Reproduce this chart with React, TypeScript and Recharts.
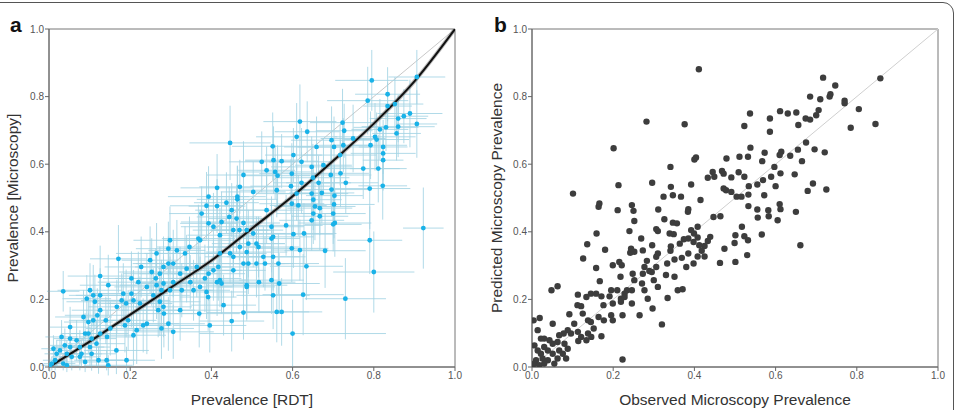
import React from "react";
import {
  ComposedChart,
  ScatterChart,
  Scatter,
  Line,
  XAxis,
  YAxis,
  ErrorBar,
  ReferenceLine,
  ReferenceArea,
} from "recharts";

// Panel a: site prevalence by RDT (x) vs microscopy (y), with x/y uncertainty
// [rdt, microscopy, rdtErr, microErr]
const RDT_VS_MICRO: [number, number, number, number][] = [
  [0.795, 0.848, 0.09, 0.09], [0.906, 0.858, 0.07, 0.08], [0.834, 0.807, 0.08, 0.08],
  [0.785, 0.788, 0.1, 0.1], [0.852, 0.778, 0.07, 0.08], [0.834, 0.772, 0.06, 0.07],
  [0.889, 0.75, 0.08, 0.1], [0.874, 0.742, 0.06, 0.08], [0.86, 0.735, 0.07, 0.07],
  [0.906, 0.719, 0.05, 0.1], [0.86, 0.711, 0.09, 0.09], [0.856, 0.691, 0.06, 0.08],
  [0.83, 0.709, 0.08, 0.07], [0.815, 0.703, 0.07, 0.09], [0.803, 0.681, 0.1, 0.1],
  [0.807, 0.673, 0.08, 0.08], [0.792, 0.656, 0.09, 0.1], [0.823, 0.651, 0.06, 0.08],
  [0.823, 0.632, 0.08, 0.08], [0.823, 0.612, 0.05, 0.09], [0.811, 0.587, 0.07, 0.1],
  [0.774, 0.587, 0.09, 0.09], [0.79, 0.528, 0.1, 0.12], [0.822, 0.536, 0.06, 0.1],
  [0.922, 0.411, 0.05, 0.12], [0.79, 0.375, 0.08, 0.1], [0.8, 0.281, 0.1, 0.12],
  [0.73, 0.202, 0.1, 0.12],
  [0.618, 0.726, 0.09, 0.11], [0.636, 0.696, 0.08, 0.09], [0.61, 0.681, 0.1, 0.1],
  [0.602, 0.627, 0.07, 0.08], [0.659, 0.651, 0.08, 0.09], [0.696, 0.671, 0.1, 0.1],
  [0.723, 0.723, 0.08, 0.1], [0.727, 0.699, 0.07, 0.08], [0.702, 0.651, 0.09, 0.09],
  [0.725, 0.656, 0.06, 0.08], [0.749, 0.676, 0.08, 0.1], [0.717, 0.627, 0.09, 0.09],
  [0.676, 0.597, 0.07, 0.08], [0.647, 0.592, 0.1, 0.09], [0.622, 0.607, 0.08, 0.1],
  [0.573, 0.609, 0.09, 0.08], [0.553, 0.612, 0.07, 0.1], [0.551, 0.653, 0.1, 0.1],
  [0.524, 0.607, 0.08, 0.09], [0.536, 0.582, 0.07, 0.07], [0.557, 0.577, 0.09, 0.08],
  [0.598, 0.572, 0.08, 0.09], [0.596, 0.535, 0.1, 0.08], [0.622, 0.545, 0.07, 0.09],
  [0.65, 0.56, 0.09, 0.1], [0.664, 0.545, 0.08, 0.08], [0.694, 0.568, 0.1, 0.09],
  [0.718, 0.573, 0.07, 0.1], [0.731, 0.545, 0.08, 0.09], [0.696, 0.525, 0.09, 0.08],
  [0.703, 0.507, 0.07, 0.09], [0.702, 0.481, 0.1, 0.1], [0.7, 0.454, 0.08, 0.09],
  [0.704, 0.426, 0.09, 0.1], [0.7, 0.422, 0.07, 0.08], [0.672, 0.515, 0.08, 0.09],
  [0.647, 0.513, 0.09, 0.08], [0.651, 0.495, 0.07, 0.09], [0.655, 0.475, 0.1, 0.1],
  [0.667, 0.47, 0.08, 0.08], [0.651, 0.454, 0.09, 0.09], [0.667, 0.446, 0.07, 0.1],
  [0.647, 0.434, 0.08, 0.09], [0.61, 0.513, 0.1, 0.08], [0.614, 0.478, 0.07, 0.09],
  [0.598, 0.483, 0.08, 0.1], [0.584, 0.419, 0.09, 0.09], [0.602, 0.393, 0.1, 0.1],
  [0.628, 0.395, 0.08, 0.09], [0.598, 0.351, 0.09, 0.1], [0.618, 0.346, 0.07, 0.09],
  [0.68, 0.344, 0.1, 0.11], [0.634, 0.298, 0.09, 0.1], [0.626, 0.214, 0.1, 0.12],
  [0.6, 0.099, 0.23, 0.1], [0.563, 0.566, 0.08, 0.09], [0.561, 0.523, 0.09, 0.08],
  [0.446, 0.663, 0.1, 0.11], [0.479, 0.568, 0.09, 0.1], [0.503, 0.518, 0.08, 0.09],
  [0.47, 0.533, 0.1, 0.08], [0.464, 0.504, 0.07, 0.09], [0.414, 0.53, 0.09, 0.1],
  [0.393, 0.504, 0.1, 0.09], [0.376, 0.454, 0.08, 0.08], [0.388, 0.477, 0.09, 0.1],
  [0.414, 0.476, 0.07, 0.08], [0.437, 0.486, 0.08, 0.09], [0.464, 0.496, 0.1, 0.1],
  [0.45, 0.464, 0.09, 0.08], [0.444, 0.444, 0.08, 0.09], [0.462, 0.439, 0.07, 0.1],
  [0.479, 0.426, 0.09, 0.08], [0.425, 0.429, 0.1, 0.09], [0.405, 0.415, 0.08, 0.1],
  [0.393, 0.425, 0.07, 0.08], [0.372, 0.375, 0.09, 0.09], [0.421, 0.39, 0.08, 0.08],
  [0.454, 0.405, 0.1, 0.1], [0.469, 0.405, 0.07, 0.09], [0.487, 0.405, 0.09, 0.08],
  [0.503, 0.395, 0.08, 0.1], [0.516, 0.355, 0.1, 0.09], [0.511, 0.365, 0.07, 0.08],
  [0.536, 0.464, 0.09, 0.1], [0.548, 0.415, 0.08, 0.09], [0.552, 0.385, 0.1, 0.08],
  [0.548, 0.38, 0.07, 0.1], [0.528, 0.326, 0.09, 0.09], [0.552, 0.326, 0.08, 0.1],
  [0.565, 0.306, 0.1, 0.09], [0.532, 0.306, 0.07, 0.08], [0.491, 0.365, 0.09, 0.1],
  [0.47, 0.355, 0.08, 0.09], [0.487, 0.34, 0.1, 0.08], [0.454, 0.326, 0.07, 0.09],
  [0.479, 0.306, 0.09, 0.1], [0.454, 0.286, 0.08, 0.08], [0.491, 0.306, 0.1, 0.09],
  [0.511, 0.306, 0.07, 0.1], [0.446, 0.336, 0.09, 0.09], [0.421, 0.336, 0.08, 0.08],
  [0.417, 0.296, 0.1, 0.1], [0.405, 0.286, 0.07, 0.09], [0.393, 0.276, 0.09, 0.08],
  [0.414, 0.251, 0.08, 0.1], [0.425, 0.247, 0.1, 0.09], [0.421, 0.257, 0.07, 0.08],
  [0.384, 0.262, 0.09, 0.1], [0.372, 0.237, 0.08, 0.09], [0.388, 0.222, 0.1, 0.08],
  [0.392, 0.207, 0.07, 0.1], [0.356, 0.227, 0.09, 0.09], [0.348, 0.251, 0.08, 0.08],
  [0.487, 0.242, 0.1, 0.1], [0.517, 0.251, 0.09, 0.09], [0.548, 0.257, 0.08, 0.1],
  [0.567, 0.247, 0.1, 0.09], [0.552, 0.212, 0.09, 0.1], [0.561, 0.163, 0.08, 0.09],
  [0.573, 0.163, 0.1, 0.1], [0.479, 0.161, 0.09, 0.08], [0.43, 0.183, 0.08, 0.09],
  [0.37, 0.158, 0.1, 0.1], [0.396, 0.123, 0.09, 0.08], [0.45, 0.136, 0.08, 0.09],
  [0.487, 0.237, 0.07, 0.1],
  [0.368, 0.38, 0.09, 0.1], [0.346, 0.355, 0.08, 0.09], [0.335, 0.336, 0.1, 0.08],
  [0.315, 0.345, 0.07, 0.09], [0.298, 0.375, 0.09, 0.1], [0.294, 0.35, 0.08, 0.08],
  [0.265, 0.336, 0.1, 0.09], [0.249, 0.316, 0.07, 0.1], [0.227, 0.296, 0.09, 0.09],
  [0.294, 0.306, 0.08, 0.08], [0.306, 0.306, 0.1, 0.1], [0.282, 0.296, 0.07, 0.09],
  [0.273, 0.276, 0.09, 0.08], [0.253, 0.281, 0.08, 0.1], [0.263, 0.262, 0.1, 0.09],
  [0.282, 0.247, 0.07, 0.08], [0.265, 0.242, 0.09, 0.1], [0.306, 0.251, 0.08, 0.09],
  [0.323, 0.276, 0.1, 0.08], [0.339, 0.291, 0.07, 0.1], [0.364, 0.296, 0.09, 0.09],
  [0.327, 0.227, 0.08, 0.08], [0.298, 0.227, 0.1, 0.1], [0.277, 0.227, 0.07, 0.09],
  [0.257, 0.212, 0.09, 0.08], [0.241, 0.237, 0.08, 0.1], [0.22, 0.251, 0.1, 0.09],
  [0.203, 0.262, 0.07, 0.08], [0.203, 0.217, 0.09, 0.1], [0.183, 0.217, 0.08, 0.09],
  [0.179, 0.197, 0.1, 0.08], [0.19, 0.188, 0.07, 0.1], [0.208, 0.197, 0.09, 0.09],
  [0.224, 0.188, 0.08, 0.08], [0.273, 0.193, 0.1, 0.1], [0.282, 0.178, 0.07, 0.09],
  [0.269, 0.168, 0.09, 0.08], [0.283, 0.158, 0.08, 0.1], [0.323, 0.168, 0.1, 0.09],
  [0.294, 0.128, 0.09, 0.08], [0.241, 0.128, 0.08, 0.09], [0.232, 0.123, 0.07, 0.08],
  [0.216, 0.109, 0.09, 0.1], [0.277, 0.114, 0.08, 0.09], [0.306, 0.104, 0.1, 0.08],
  [0.195, 0.138, 0.07, 0.09], [0.187, 0.123, 0.09, 0.08], [0.208, 0.094, 0.08, 0.09],
  [0.171, 0.32, 0.07, 0.1], [0.126, 0.269, 0.08, 0.09], [0.126, 0.212, 0.06, 0.08],
  [0.146, 0.242, 0.07, 0.09], [0.101, 0.227, 0.08, 0.08], [0.109, 0.212, 0.06, 0.09],
  [0.113, 0.193, 0.07, 0.08], [0.093, 0.202, 0.06, 0.07], [0.085, 0.148, 0.07, 0.08],
  [0.097, 0.133, 0.06, 0.07], [0.119, 0.153, 0.08, 0.08], [0.126, 0.168, 0.07, 0.09],
  [0.14, 0.138, 0.06, 0.07], [0.143, 0.089, 0.07, 0.08], [0.166, 0.049, 0.08, 0.07],
  [0.151, 0.114, 0.06, 0.08], [0.126, 0.099, 0.07, 0.07], [0.105, 0.084, 0.06, 0.06],
  [0.117, 0.069, 0.07, 0.07], [0.101, 0.059, 0.05, 0.06], [0.076, 0.059, 0.06, 0.05],
  [0.068, 0.079, 0.05, 0.06], [0.052, 0.084, 0.04, 0.05], [0.031, 0.089, 0.04, 0.05],
  [0.035, 0.224, 0.04, 0.06], [0.044, 0.039, 0.04, 0.04], [0.056, 0.03, 0.05, 0.04],
  [0.076, 0.03, 0.05, 0.04], [0.089, 0.015, 0.06, 0.03], [0.122, 0.02, 0.06, 0.04],
  [0.142, 0.02, 0.07, 0.03], [0.146, 0.005, 0.06, 0.03], [0.191, 0.02, 0.07, 0.04],
  [0.019, 0.039, 0.03, 0.04], [0.015, 0.02, 0.03, 0.03], [0.007, 0.01, 0.02, 0.02],
  [0.011, 0.054, 0.03, 0.04], [0.027, 0.049, 0.03, 0.04], [0.039, 0.064, 0.04, 0.05],
  [0.052, 0.059, 0.04, 0.04], [0.035, 0.01, 0.03, 0.02], [0.044, 0.005, 0.03, 0.02],
  [0.002, 0.005, 0.02, 0.02], [0.08, 0.039, 0.05, 0.04], [0.105, 0.039, 0.06, 0.05],
  [0.089, 0.099, 0.06, 0.06], [0.052, 0.118, 0.05, 0.06], [0.109, 0.138, 0.06, 0.07],
  [0.097, 0.099, 0.05, 0.06], [0.167, 0.178, 0.07, 0.08],
];

// Fitted RDT -> microscopy relationship
const FIT_X = [0, 0.1, 0.2, 0.3, 0.4, 0.5, 0.6, 0.7, 0.8, 0.9, 1.0];
const FIT_Y = [0, 0.075, 0.155, 0.235, 0.315, 0.41, 0.505, 0.61, 0.72, 0.845, 1.0];

// Panel b: observed vs predicted microscopy prevalence
const OBS_VS_PRED: [number, number][] = [
  [0.411, 0.881], [0.717, 0.856], [0.747, 0.833], [0.858, 0.854], [0.735, 0.807],
  [0.733, 0.8], [0.685, 0.8], [0.71, 0.792], [0.77, 0.788], [0.77, 0.78],
  [0.805, 0.763], [0.785, 0.708], [0.846, 0.719], [0.706, 0.76], [0.7, 0.745],
  [0.674, 0.735], [0.685, 0.732], [0.656, 0.716], [0.651, 0.753], [0.63, 0.75],
  [0.611, 0.757], [0.586, 0.735], [0.586, 0.696], [0.537, 0.75], [0.523, 0.713],
  [0.282, 0.726], [0.376, 0.718], [0.538, 0.649], [0.696, 0.644], [0.721, 0.635],
  [0.675, 0.664], [0.655, 0.643], [0.665, 0.609], [0.614, 0.637], [0.61, 0.627],
  [0.636, 0.625], [0.573, 0.634], [0.567, 0.609], [0.597, 0.592], [0.612, 0.573],
  [0.647, 0.57], [0.692, 0.543], [0.725, 0.525], [0.679, 0.521], [0.65, 0.459],
  [0.661, 0.36], [0.589, 0.563], [0.569, 0.553], [0.555, 0.54], [0.6, 0.535],
  [0.572, 0.508], [0.61, 0.482], [0.612, 0.467], [0.605, 0.434], [0.582, 0.464],
  [0.583, 0.446], [0.555, 0.466], [0.556, 0.442], [0.566, 0.392], [0.533, 0.51],
  [0.533, 0.476], [0.534, 0.535], [0.523, 0.563], [0.511, 0.622], [0.532, 0.622],
  [0.509, 0.576], [0.504, 0.504], [0.516, 0.504], [0.491, 0.518], [0.478, 0.523],
  [0.472, 0.528], [0.479, 0.617], [0.491, 0.561], [0.468, 0.58], [0.472, 0.572],
  [0.445, 0.577], [0.449, 0.563], [0.433, 0.56], [0.4, 0.614], [0.404, 0.62],
  [0.392, 0.54], [0.415, 0.494], [0.464, 0.446], [0.447, 0.444], [0.523, 0.387],
  [0.532, 0.375], [0.517, 0.415], [0.499, 0.367], [0.501, 0.39], [0.474, 0.35],
  [0.463, 0.308], [0.501, 0.311], [0.53, 0.331], [0.439, 0.385], [0.433, 0.373],
  [0.425, 0.358], [0.412, 0.36], [0.399, 0.395], [0.392, 0.405], [0.408, 0.383],
  [0.398, 0.37], [0.385, 0.38], [0.374, 0.378], [0.408, 0.415], [0.418, 0.344],
  [0.408, 0.327], [0.425, 0.327], [0.398, 0.306], [0.38, 0.296], [0.385, 0.336],
  [0.369, 0.323], [0.384, 0.459], [0.385, 0.467], [0.367, 0.504], [0.347, 0.508],
  [0.341, 0.592], [0.342, 0.533], [0.324, 0.504], [0.311, 0.466], [0.326, 0.437],
  [0.347, 0.427], [0.357, 0.425], [0.339, 0.395], [0.349, 0.393], [0.364, 0.365],
  [0.342, 0.357], [0.341, 0.344], [0.351, 0.318], [0.333, 0.306], [0.33, 0.272],
  [0.351, 0.267], [0.334, 0.204], [0.371, 0.23], [0.359, 0.227], [0.296, 0.545],
  [0.31, 0.402], [0.306, 0.408], [0.296, 0.36], [0.31, 0.336], [0.306, 0.326],
  [0.306, 0.296], [0.3, 0.257], [0.31, 0.237], [0.297, 0.173], [0.32, 0.126],
  [0.283, 0.314], [0.277, 0.296], [0.289, 0.284], [0.273, 0.276], [0.295, 0.281],
  [0.271, 0.247], [0.277, 0.227], [0.285, 0.202], [0.265, 0.153], [0.269, 0.38],
  [0.273, 0.345], [0.252, 0.341], [0.242, 0.338], [0.244, 0.35], [0.252, 0.432],
  [0.25, 0.462], [0.246, 0.479], [0.24, 0.402], [0.248, 0.276], [0.252, 0.257],
  [0.246, 0.227], [0.246, 0.188], [0.234, 0.227], [0.228, 0.217], [0.219, 0.202],
  [0.219, 0.193], [0.228, 0.207], [0.218, 0.267], [0.221, 0.301], [0.215, 0.311],
  [0.199, 0.301], [0.199, 0.188], [0.21, 0.227], [0.195, 0.227], [0.191, 0.209],
  [0.199, 0.138], [0.223, 0.153], [0.223, 0.022], [0.211, 0.464], [0.213, 0.538],
  [0.201, 0.647], [0.164, 0.474], [0.166, 0.484], [0.159, 0.395], [0.136, 0.363],
  [0.126, 0.321], [0.101, 0.513], [0.18, 0.347], [0.158, 0.293], [0.167, 0.254],
  [0.145, 0.217], [0.158, 0.217], [0.171, 0.209], [0.176, 0.183], [0.164, 0.148],
  [0.177, 0.138], [0.195, 0.153], [0.145, 0.133], [0.138, 0.099], [0.146, 0.089],
  [0.152, 0.114], [0.171, 0.091], [0.113, 0.214], [0.121, 0.18], [0.134, 0.207],
  [0.125, 0.158], [0.138, 0.138], [0.092, 0.156], [0.112, 0.183], [0.063, 0.239],
  [0.048, 0.227], [0.104, 0.128], [0.113, 0.104], [0.121, 0.089], [0.134, 0.079],
  [0.114, 0.077], [0.096, 0.099], [0.088, 0.109], [0.078, 0.099], [0.067, 0.094],
  [0.051, 0.128], [0.063, 0.074], [0.051, 0.069], [0.043, 0.079], [0.03, 0.084],
  [0.022, 0.084], [0.014, 0.109], [0.019, 0.145], [0.004, 0.138], [0.08, 0.069],
  [0.088, 0.054], [0.076, 0.039], [0.084, 0.025], [0.067, 0.049], [0.051, 0.039],
  [0.039, 0.049], [0.03, 0.059], [0.022, 0.039], [0.014, 0.049], [0.006, 0.064],
  [0.026, 0.025], [0.01, 0.02], [0.039, 0.02], [0.055, 0.01], [0.006, 0.01],
  [0.018, 0.005], [0.002, 0.005], [0.063, 0.025], [0.03, 0.01],
];

const TICKS = [0, 0.2, 0.4, 0.6, 0.8, 1.0];

const FONT = '"Liberation Sans", Arial, sans-serif';
const TICK_STYLE = { fontSize: 10, fill: "#555", fontFamily: FONT };
const TITLE_STYLE = { fontSize: 15.5, fill: "#333", fontFamily: FONT };

const rdtData = RDT_VS_MICRO.map(([x, y, ex, ey]) => ({ x, y, ex, ey }));
const fitData = FIT_X.map((x, i) => ({ x, y: FIT_Y[i] }));
const obsData = OBS_VS_PRED.map(([x, y]) => ({ x, y }));

const fmt = (v: number) => v.toFixed(1);

function axes(xTitle: string, yTitle: string, yWidth: number, yOffset: number) {
  return [
    <XAxis
      key="x"
      type="number"
      dataKey="x"
      domain={[0, 1]}
      ticks={TICKS}
      tickFormatter={fmt}
      allowDataOverflow
      height={43}
      tickSize={4}
      tickMargin={1}
      stroke="#666"
      tick={TICK_STYLE}
      label={{ value: xTitle, position: "insideBottom", offset: 5, style: TITLE_STYLE }}
    />,
    <YAxis
      key="y"
      type="number"
      dataKey="y"
      domain={[0, 1]}
      ticks={TICKS}
      tickFormatter={fmt}
      allowDataOverflow
      width={yWidth}
      tickSize={4}
      tickMargin={1}
      stroke="#666"
      tick={TICK_STYLE}
      label={{
        value: yTitle,
        angle: -90,
        position: "insideLeft",
        offset: yOffset,
        style: { ...TITLE_STYLE, textAnchor: "middle" },
      }}
    />,
  ];
}

function PanelA() {
  return (
    <ComposedChart width={478} height={410} margin={{ top: 29, right: 23, bottom: 0, left: 0 }}>
      {axes("Prevalence [RDT]", "Prevalence [Microscopy]", 49, 12)}
      <ReferenceLine
        segment={[{ x: 0, y: 0 }, { x: 1, y: 1 }]}
        stroke="#c8c8c8"
        strokeWidth={1}
      />
      <Scatter
        data={rdtData}
        isAnimationActive={false}
        shape={(p: any) => <circle cx={p.cx} cy={p.cy} r={2.4} fill="#19b2e8" />}
      >
        <ErrorBar dataKey="ex" direction="x" width={0} stroke="#a3d3e4" strokeWidth={1} strokeOpacity={0.85} />
        <ErrorBar dataKey="ey" direction="y" width={0} stroke="#a3d3e4" strokeWidth={1} strokeOpacity={0.85} />
      </Scatter>
      <Line
        data={fitData}
        dataKey="y"
        type="monotone"
        dot={false}
        activeDot={false}
        stroke="#777"
        strokeWidth={4}
        strokeOpacity={0.5}
        isAnimationActive={false}
      />
      <Line
        data={fitData}
        dataKey="y"
        type="monotone"
        dot={false}
        activeDot={false}
        stroke="#111"
        strokeWidth={2}
        isAnimationActive={false}
      />
      <ReferenceArea x1={0} x2={1} y1={0} y2={1} fill="none" stroke="#777" strokeWidth={1} />
    </ComposedChart>
  );
}

function PanelB() {
  return (
    <ScatterChart width={479} height={410} margin={{ top: 29, right: 19, bottom: 0, left: 0 }}>
      {axes("Observed Microscopy Prevalence", "Predicted Microscopy Prevalence", 54, 18)}
      <ReferenceLine
        segment={[{ x: 0, y: 0 }, { x: 1, y: 1 }]}
        stroke="#cfcfcf"
        strokeWidth={1}
      />
      <Scatter
        data={obsData}
        isAnimationActive={false}
        shape={(p: any) => <circle cx={p.cx} cy={p.cy} r={3.2} fill="#3d3d3d" />}
      />
      <ReferenceArea x1={0} x2={1} y1={0} y2={1} fill="none" stroke="#777" strokeWidth={1} />
    </ScatterChart>
  );
}

const letterStyle: React.CSSProperties = {
  position: "absolute",
  top: 14,
  fontFamily: FONT,
  fontWeight: "bold",
  fontSize: 21,
  lineHeight: "21px",
  color: "#111",
};

export default function App() {
  return (
    <div
      style={{
        position: "fixed",
        left: 0,
        top: 0,
        width: 957,
        height: 410,
        background: "#fff",
        overflow: "hidden",
      }}
    >
      <div
        style={{
          position: "absolute",
          left: -20,
          top: 2,
          width: 974,
          height: 430,
          border: "1.5px solid #555",
          borderRadius: 11,
          boxSizing: "border-box",
        }}
      />
      <div style={{ position: "absolute", left: 0, top: 0 }}>
        <PanelA />
      </div>
      <div style={{ position: "absolute", left: 478, top: 0 }}>
        <PanelB />
      </div>
      <div style={{ ...letterStyle, left: 10 }}>a</div>
      <div style={{ ...letterStyle, left: 494 }}>b</div>
    </div>
  );
}
